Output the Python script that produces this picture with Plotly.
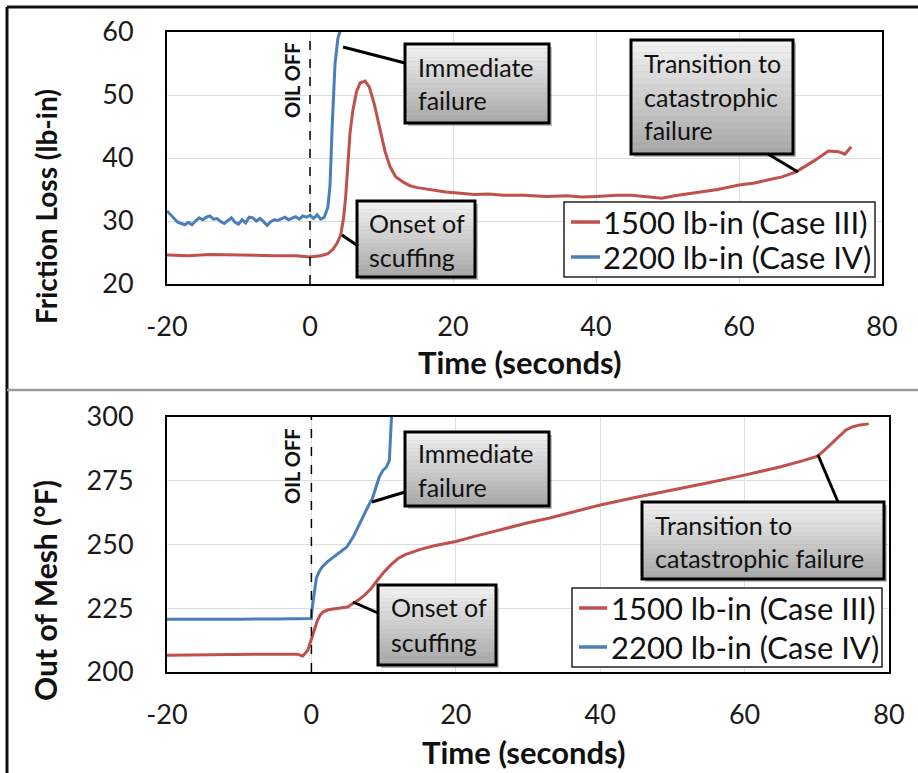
import plotly.graph_objects as go

# ---------------- data ----------------
# Friction loss (lb-in) vs time (s)
fric_t_iii = [-20, -17, -14, -11, -8, -5, -2, 0, 1.5, 2.5, 3.2, 3.8, 4.3, 4.7, 5.0, 5.3,
              5.6, 6.0, 6.5, 7.0, 7.7, 8.3, 9.0, 9.7, 10.5, 11.2, 12.0, 13.0, 14.0, 15.0,
              17.0, 19.0, 21, 23, 25, 27, 30, 33, 36, 38, 40, 43, 45, 47, 49.2, 51, 54.4,
              57, 60, 62, 64, 66, 68, 69.5, 70.7, 72.5, 73.9, 74.8, 75.7]
fric_v_iii = [24.6, 24.5, 24.7, 24.6, 24.6, 24.5, 24.5, 24.3, 24.5, 24.8, 25.5, 26.5, 27.8,
              30.5, 34.0, 39.5, 44.0, 47.6, 50.5, 51.9, 52.2, 51.3, 48.5, 45.0, 41.0, 38.6,
              37.0, 36.2, 35.6, 35.3, 34.9, 34.6, 34.4, 34.2, 34.3, 34.1, 34.1, 33.9, 34.0,
              33.8, 33.9, 34.1, 34.1, 33.9, 33.6, 34.0, 34.6, 35.0, 35.7, 36.0, 36.5, 37.0,
              37.8, 38.8, 39.7, 41.1, 41.0, 40.6, 41.8]

fric_t_iv = [-20, -19.5, -19, -18.5, -18, -17.5, -17, -16.5, -16, -15.5, -15, -14.5, -14,
             -13.5, -13, -12.5, -12, -11.5, -11, -10.5, -10, -9.5, -9, -8.5, -8, -7.5, -7,
             -6.5, -6, -5.5, -5, -4.5, -4, -3.5, -3, -2.5, -2, -1.5, -1, -0.5, 0, 0.5, 1,
             1.5, 2.0, 2.5, 2.8, 3.1, 3.5, 3.9, 4.3]
fric_v_iv = [31.6, 31.0, 30.3, 29.8, 29.6, 29.4, 29.8, 29.4, 30.0, 30.5, 30.2, 30.6, 30.8,
             30.3, 30.4, 29.9, 29.6, 30.1, 30.5, 29.8, 29.5, 30.2, 29.7, 30.6, 30.5, 30.0,
             30.4, 29.9, 29.3, 29.9, 30.2, 30.1, 30.4, 30.6, 30.2, 30.5, 30.7, 30.3, 30.8,
             30.6, 30.9, 30.4, 31.0, 30.3, 30.6, 32.2, 35.7, 45.0, 55.0, 59.0, 60.5]

# Out-of-mesh temperature (degF) vs time (s)
temp_t_iii = [-20, -15, -10, -5, -2, -1.2, -0.5, 0, 0.4, 0.8, 1.2, 1.6, 2.2, 3, 4, 5, 5.8,
              6.6, 7.4, 8.2, 9, 10, 11, 12, 13, 14, 15, 17, 20, 23, 26, 30, 33, 36, 40, 45,
              50, 55, 60, 65, 68, 70, 71, 72, 73, 74, 75, 76, 77.2]
temp_v_iii = [206.6, 206.8, 207.0, 207.0, 207.0, 206.3, 208.5, 212.5, 216.5, 220.0, 222.3,
              223.5, 224.3, 224.7, 225.0, 225.5, 227.0, 228.4, 230.2, 232.5, 235.5, 239.0,
              242.0, 244.5, 246.0, 247.0, 248.0, 249.5, 251.2, 253.5, 255.7, 258.5, 260.4,
              262.5, 265.5, 268.5, 271.3, 274.2, 277.2, 280.5, 282.8, 284.5, 286.8, 289.5,
              292.5, 294.8, 296.2, 296.9, 297.3]

temp_t_iv = [-20, -15, -10, -5, -2, 0, 0.1, 0.4, 0.7, 1.1, 1.5, 2.2, 2.9, 3.8, 4.9, 5.8,
             6.7, 7.6, 8.5, 9.4, 9.9, 10.4, 10.8, 10.9, 11.1]
temp_v_iv = [220.7, 220.6, 220.7, 220.8, 220.8, 221.0, 225.0, 232.0, 237.0, 239.5, 241.2,
             243.2, 244.7, 246.5, 249.0, 253.0, 258.4, 263.5, 268.5, 276.5, 279.0, 280.4,
             283.0, 289.0, 300.5]

series_names = ["1500 lb-in (Case III)", "2200 lb-in (Case IV)"]
x_ticks = [-20, 0, 20, 40, 60, 80]
x_tick_labels = ["-20", "0", "20", "40", "60", "80"]
fric_ticks = [20, 30, 40, 50, 60]
temp_ticks = [200, 225, 250, 275, 300]

# ---------------- styling ----------------
W, H = 918, 773
FONT = "Lato, 'Open Sans', sans-serif"
RED = "#c0504d"
BLUE = "#4a7ebb"
COLORS = [RED, BLUE]
INK = "#111"


def px(x):
    return x / W


def py(y):
    return 1 - y / H


fig = go.Figure()

fig.add_trace(go.Scatter(x=fric_t_iii, y=fric_v_iii, mode="lines", name=series_names[0],
                         line=dict(color=RED, width=3), xaxis="x", yaxis="y"))
fig.add_trace(go.Scatter(x=fric_t_iv, y=fric_v_iv, mode="lines", name=series_names[1],
                         line=dict(color=BLUE, width=3), xaxis="x", yaxis="y"))
fig.add_trace(go.Scatter(x=temp_t_iii, y=temp_v_iii, mode="lines", name=series_names[0],
                         line=dict(color=RED, width=3), xaxis="x2", yaxis="y2"))
fig.add_trace(go.Scatter(x=temp_t_iv, y=temp_v_iv, mode="lines", name=series_names[1],
                         line=dict(color=BLUE, width=3), xaxis="x2", yaxis="y2"))

axis_common = dict(
    showgrid=True, gridcolor="#dedede", gridwidth=1,
    showline=True, linecolor="black", linewidth=2, mirror=True,
    zeroline=False, ticks="", automargin=False,
    tickfont=dict(family=FONT, size=27, color="#1a1a1a"),
)

shapes = []
annotations = []


def label(text, x, y, size, angle=0, xanchor="center", bold=False):
    annotations.append(dict(text=f"<b>{text}</b>" if bold else text, xref="paper",
                            yref="paper", x=px(x), y=py(y), xanchor=xanchor,
                            yanchor="middle", showarrow=False, textangle=angle,
                            font=dict(family=FONT, size=size, color=INK)))


# outer frame and panel divider
shapes.append(dict(type="line", xref="paper", yref="paper", x0=px(7), x1=px(918),
                   y0=py(7), y1=py(7), line=dict(color="#111", width=3)))
shapes.append(dict(type="line", xref="paper", yref="paper", x0=px(7), x1=px(7),
                   y0=py(7), y1=py(773), line=dict(color="#111", width=3)))
shapes.append(dict(type="line", xref="paper", yref="paper", x0=px(7), x1=px(918),
                   y0=py(390), y1=py(390), line=dict(color="#9a9a9a", width=2.5)))

# OIL OFF markers
for xr, yr in (("x", "y"), ("x2", "y2")):
    shapes.append(dict(type="line", xref=xr, yref=yr + " domain", x0=0, x1=0, y0=0, y1=1,
                       line=dict(color="black", width=1.5, dash="dash")))
label("OIL OFF", 292, 80, 20, angle=-90, bold=True)
label("OIL OFF", 292, 466, 20, angle=-90, bold=True)

# axis titles
label("Friction Loss (lb-in)", 46, 207, 28, angle=-90, bold=True)
label("Out of Mesh (°F)", 45, 591, 30, angle=-90, bold=True)
label("Time (seconds)", 520, 362, 31, bold=True)
label("Time (seconds)", 524, 752, 31, bold=True)


def callout(x0, y0, x1, y1, lines, tx, line_ys, leader):
    # drop shadow
    shapes.append(dict(type="rect", xref="paper", yref="paper", x0=px(x0 + 3), x1=px(x1 + 3),
                       y0=py(y0 + 3), y1=py(y1 + 3), line=dict(width=0),
                       fillcolor="rgba(0,0,0,0.25)", layer="above"))
    # vertical grey gradient
    n = 18
    for i in range(n):
        f = i / (n - 1)
        g = int(242 - f * (242 - 168))
        ya = y0 + (y1 - y0) * i / n
        yb = y0 + (y1 - y0) * (i + 1) / n
        shapes.append(dict(type="rect", xref="paper", yref="paper", x0=px(x0), x1=px(x1),
                           y0=py(ya), y1=py(yb), line=dict(width=0),
                           fillcolor=f"rgb({g},{g},{g})", layer="above"))
    shapes.append(dict(type="rect", xref="paper", yref="paper", x0=px(x0), x1=px(x1),
                       y0=py(y0), y1=py(y1), line=dict(color="black", width=3),
                       fillcolor="rgba(0,0,0,0)", layer="above"))
    (lx0, ly0), (lx1, ly1) = leader
    shapes.append(dict(type="line", xref="paper", yref="paper", x0=px(lx0), x1=px(lx1),
                       y0=py(ly0), y1=py(ly1), line=dict(color="black", width=3),
                       layer="above"))
    for txt, yc in zip(lines, line_ys):
        label(txt, tx, yc, 25, xanchor="left")


# friction panel callouts
callout(405, 44, 549, 123, ["Immediate", "failure"], 416, [67, 100], ((343, 47), (405, 63)))
callout(357, 201, 475, 277, ["Onset of", "scuffing"], 367, [223, 257], ((342, 235), (358, 246)))
callout(631, 40, 793, 154, ["Transition to", "catastrophic", "failure"], 642, [63, 97, 130],
        ((768, 154), (798, 172)))
# temperature panel callouts
callout(405, 432, 549, 506, ["Immediate", "failure"], 416, [453, 487], ((372, 502), (405, 492)))
callout(378, 585, 496, 665, ["Onset of", "scuffing"], 389, [607, 642], ((353, 602), (378, 613)))
callout(642, 502, 884, 579, ["Transition to", "catastrophic failure"], 653, [525, 558],
        ((838, 502), (818, 455)))


def key(x0, y0, x1, y1, sample_x, text_x, row_ys):
    shapes.append(dict(type="rect", xref="paper", yref="paper", x0=px(x0), x1=px(x1),
                       y0=py(y0), y1=py(y1), line=dict(color="#222", width=1.5),
                       fillcolor="white", layer="above"))
    for name, color, yc in zip(series_names, COLORS, row_ys):
        shapes.append(dict(type="line", xref="paper", yref="paper", x0=px(sample_x[0]),
                           x1=px(sample_x[1]), y0=py(yc), y1=py(yc),
                           line=dict(color=color, width=3.5), layer="above"))
        label(name, text_x, yc, 31, xanchor="left")


key(564, 202, 875, 277, (571, 600), 601, [222, 257])
key(572, 588, 882, 667, (579, 607), 609, [608, 647])

fig.update_layout(
    width=W, height=H,
    margin=dict(l=0, r=0, t=0, b=0, autoexpand=False),
    paper_bgcolor="white", plot_bgcolor="white",
    showlegend=False,
    xaxis=dict(axis_common, domain=[px(167), px(882)], range=[-20, 80], tickvals=x_ticks,
               ticktext=x_tick_labels, ticklabelstandoff=18, anchor="y"),
    yaxis=dict(axis_common, domain=[py(284), py(32)], range=[20, 60], tickvals=fric_ticks,
               ticklabelstandoff=26, anchor="x"),
    xaxis2=dict(axis_common, domain=[px(167), px(889)], range=[-20, 80], tickvals=x_ticks,
                ticktext=x_tick_labels, ticklabelstandoff=18, anchor="y2"),
    yaxis2=dict(axis_common, domain=[py(672), py(417)], range=[200, 300], tickvals=temp_ticks,
                ticklabelstandoff=26, anchor="x2"),
    shapes=shapes,
    annotations=annotations,
)

fig.write_html("out.html")
